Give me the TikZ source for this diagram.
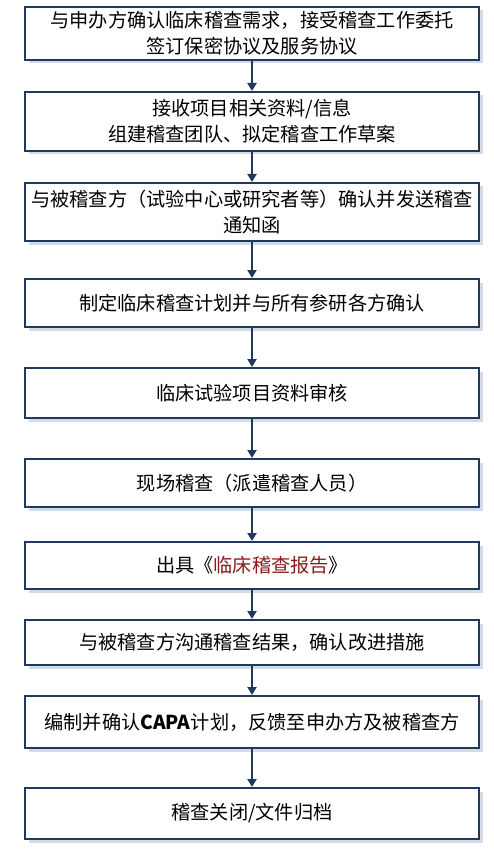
\documentclass[tikz,border=0pt]{standalone}
\usepackage{fontspec}
\setmainfont{Noto Sans CJK SC}
\usetikzlibrary{arrows.meta,shadows}
\definecolor{navy}{HTML}{1F3A5C}
\definecolor{shadowc}{HTML}{D3DBE6}
\definecolor{redtxt}{HTML}{8B1A1A}
\begin{document}
\begin{tikzpicture}[x=1pt,y=-1pt,
  stepbox/.style={draw=navy,line width=2pt,fill=white,minimum width=454pt,
    inner sep=0pt,align=center,font=\fontsize{19.2pt}{26pt}\selectfont,
    drop shadow={shadow xshift=3.5pt,shadow yshift=-3.5pt,fill=shadowc,opacity=1}},
  flow/.style={draw=navy,line width=2pt,-{Triangle[length=8pt,width=9pt]}}]
\useasboundingbox (0,0) rectangle (493,850);
\fill[white] (0,0) rectangle (493,850);
\node[stepbox,minimum height=53pt] (b1) at (252,33.5) {与申办方确认临床稽查需求，接受稽查工作委托\\签订保密协议及服务协议};
\node[stepbox,minimum height=59pt] (b2) at (252,121.5) {接收项目相关资料/信息\\组建稽查团队、拟定稽查工作草案};
\node[stepbox,minimum height=58pt] (b3) at (252,212) {与被稽查方（试验中心或研究者等）确认并发送稽查\\通知函};
\node[stepbox,minimum height=48pt] (b4) at (252,303) {制定临床稽查计划并与所有参研各方确认};
\node[stepbox,minimum height=50pt] (b5) at (252,393) {临床试验项目资料审核};
\node[stepbox,minimum height=48pt] (b6) at (252,483) {现场稽查（派遣稽查人员）};
\node[stepbox,minimum height=47pt] (b7) at (252,565.5) {出具《\textcolor{redtxt}{临床稽查报告}》};
\node[stepbox,minimum height=45pt] (b8) at (252,642.5) {与被稽查方沟通稽查结果，确认改进措施};
\node[stepbox,minimum height=52pt] (b9) at (252,722) {编制并确认\textbf{CAPA}计划，反馈至申办方及被稽查方};
\node[stepbox,minimum height=51pt] (b10) at (252,813.5) {稽查关闭/文件归档};
\foreach \a/\b in {b1/b2,b2/b3,b3/b4,b4/b5,b5/b6,b6/b7,b7/b8,b8/b9,b9/b10}
  \draw[flow] (\a.south) -- (\b.north);
\end{tikzpicture}
\end{document}
